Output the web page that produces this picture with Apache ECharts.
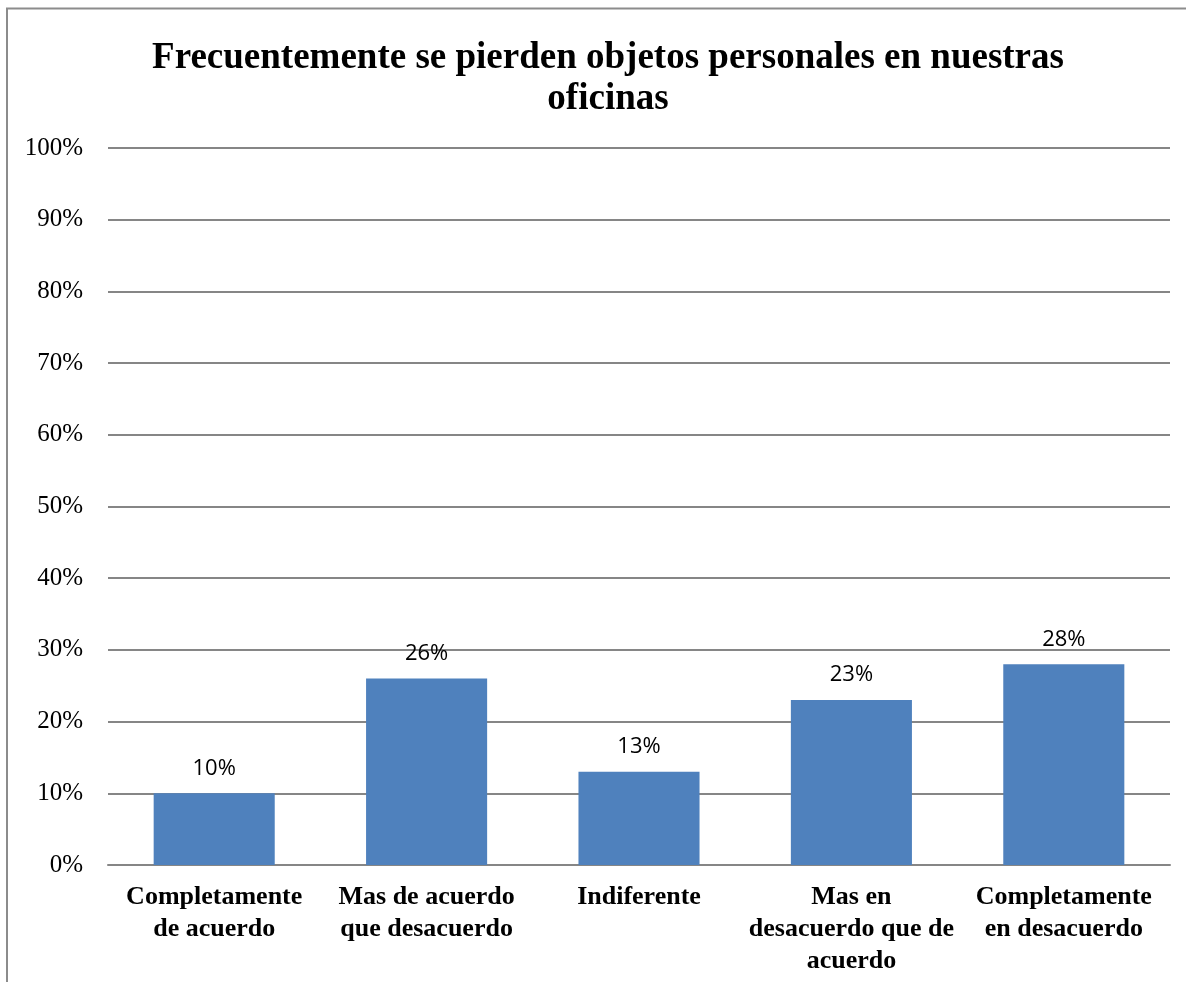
<!DOCTYPE html>
<html>
<head>
<meta charset="utf-8">
<script src="https://cdn.jsdelivr.net/npm/echarts@6/dist/echarts.min.js"></script>
<style>
  html, body { margin: 0; padding: 0; background: #fff; }
  #chart { width: 1186px; height: 982px; }
</style>
</head>
<body>
<div id="chart"></div>
<script>
// categories (line breaks as in the original chart)
var categories = [
  "Completamente\nde acuerdo",
  "Mas de acuerdo\nque desacuerdo",
  "Indiferente",
  "Mas en\ndesacuerdo que de\nacuerdo",
  "Completamente\nen desacuerdo"
];
var values = [10, 26, 13, 23, 28];

var chart = echarts.init(document.getElementById("chart"));

var option = {
  animation: false,
  title: {
    text: "Frecuentemente se pierden objetos personales en nuestras\noficinas",
    left: 603,
    top: 33,
    textAlign: "center",
    textStyle: {
      fontFamily: "Liberation Serif",
      fontWeight: "bold",
      fontSize: 37,
      lineHeight: 41,
      color: "#000"
    }
  },
  graphic: [
    {
      type: "polyline",
      shape: { points: [[7, 990], [7, 8.5], [1200, 8.5]] },
      style: { stroke: "#8c8c8c", lineWidth: 2, fill: null }
    }
  ],
  grid: { left: 108, right: 16, top: 148, bottom: 117 },
  xAxis: {
    type: "category",
    data: categories,
    axisTick: { show: false },
    axisLine: { lineStyle: { color: "#868686", width: 2 } },
    axisLabel: {
      interval: 0,
      margin: 16,
      fontFamily: "Liberation Serif",
      fontWeight: "bold",
      fontSize: 26,
      lineHeight: 32,
      color: "#000"
    }
  },
  yAxis: {
    type: "value",
    min: 0,
    max: 100,
    interval: 10,
    axisLine: { show: false },
    axisTick: { show: false },
    splitLine: { lineStyle: { color: "#868686", width: 2 } },
    axisLabel: {
      margin: 25,
      formatter: "{value}%",
      fontFamily: "Liberation Serif",
      fontSize: 25,
      color: "#000"
    }
  },
  series: [
    {
      type: "bar",
      data: values,
      barWidth: "57%",
      itemStyle: { color: "#4F81BD" },
      label: {
        show: true,
        position: "top",
        distance: 14,
        formatter: "{c}%",
        fontFamily: "Open Sans",
        fontSize: 22,
        color: "#000"
      }
    }
  ]
};

chart.setOption(option);
</script>
</body>
</html>
